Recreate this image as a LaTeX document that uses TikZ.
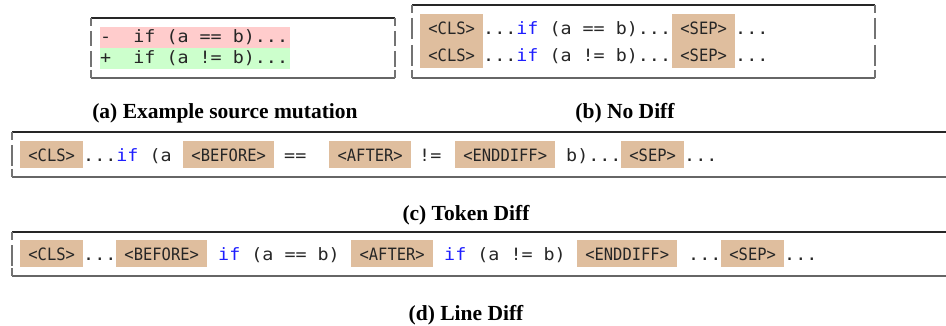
\documentclass[tikz,border=0pt]{standalone}
\usepackage{fontspec}
\setmainfont{Liberation Serif}
\setmonofont{DejaVu Sans Mono}[FakeStretch=1.08]
\newfontfamily\tokfont{DejaVu Sans Mono}[FakeStretch=0.91]
\usepackage{xcolor}
\usepackage{tikz}
\usetikzlibrary{positioning}

\definecolor{tokfill}{RGB}{223,190,158}
\definecolor{delfill}{RGB}{255,204,204}
\definecolor{addfill}{RGB}{204,255,204}
\definecolor{kwblue}{RGB}{30,30,255}
\newcommand{\kw}[1]{\textcolor{kwblue}{#1}}

\tikzset{
    tok/.style={fill=tokfill, anchor=west, inner sep=0pt, minimum height=27pt,
        text height=17pt, text depth=3pt, text=black!85,
        font=\tokfont\fontsize{17}{17}\selectfont},
    code/.style={anchor=base west, inner sep=0pt, text=black!85,
        font=\ttfamily\fontsize{17}{17}\selectfont},
    subcap/.style={anchor=base, inner sep=0pt, font=\bfseries\fontsize{21.5}{21.5}\selectfont},
    topline/.style={draw=black!85, line width=1.1pt},
    botline/.style={draw=black!60, line width=1.8pt},
    sideline/.style={draw=black!55, line width=1.4pt}
}

\begin{document}
\begin{tikzpicture}[x=1pt,y=-1pt]
    \useasboundingbox (0,0) rectangle (946,326);

    % frames
    \draw[topline] (91,18) -- (395,18);
    \draw[botline] (91,78) -- (395,78);
    \draw[topline] (412,5) -- (875,5);
    \draw[botline] (412,78) -- (875,78);
    \draw[topline] (12,132) -- (950,132);
    \draw[botline] (12,177) -- (950,177);
    \draw[topline] (12,232) -- (950,232);
    \draw[botline] (12,276) -- (950,276);
    \foreach \x/\a/\b in {91/18/26, 91/31/46, 91/51/67, 91/70/78,
                          395/18/26, 395/31/46, 395/51/67, 395/70/78,
                          412/5/13, 412/18/39, 412/45/66, 412/70/78,
                          875/5/13, 875/18/39, 875/45/66, 875/70/78,
                          12/132/140, 12/145/166, 12/169/177,
                          12/232/240, 12/245/266, 12/268/276}
        \draw[sideline] (\x,\a) -- (\x,\b);

    % (a) source mutation
    \fill[delfill] (100,27) rectangle (290,48);
    \fill[addfill] (100,48) rectangle (290,69);
    \node[code] (a-del) at (100,42.5) {-~~if~(a~==~b)...};
    \node[code] (a-add) at (100,63.5) {+~~if~(a~!=~b)...};
    \node[subcap] (cap-a) at (225,119) {(a) Example source mutation};

    % (b) no diff
    \node[tok, minimum width=63pt] (b-cls1) at (420,27.5) {<CLS>};
    \node[code] (b-src1) at (483,34.5) {...\kw{if}~(a~==~b)...};
    \node[tok, minimum width=63pt] (b-sep1) at (672,27.5) {<SEP>};
    \node[code] (b-end1) at (735,34.5) {...};
    \node[tok, minimum width=63pt] (b-cls2) at (420,54.5) {<CLS>};
    \node[code] (b-src2) at (483,61.5) {...\kw{if}~(a~!=~b)...};
    \node[tok, minimum width=63pt] (b-sep2) at (672,54.5) {<SEP>};
    \node[code] (b-end2) at (735,61.5) {...};
    \node[subcap] (cap-b) at (625,119) {(b) No Diff};

    % (c) token diff
    \node[tok, minimum width=63pt] (c-cls) at (20,154.5) {<CLS>};
    \node[code] (c-src) at (83,161.5) {...\kw{if}~(a};
    \node[tok, minimum width=91pt] (c-before) at (183,154.5) {<BEFORE>};
    \node[code] (c-old) at (284,161.5) {==};
    \node[tok, minimum width=82pt] (c-after) at (329,154.5) {<AFTER>};
    \node[code] (c-new) at (419,161.5) {!=};
    \node[tok, minimum width=100pt] (c-enddiff) at (455,154.5) {<ENDDIFF>};
    \node[code] (c-rest) at (566,161.5) {b)...};
    \node[tok, minimum width=63pt] (c-sep) at (621,154.5) {<SEP>};
    \node[code] (c-end) at (684,161.5) {...};
    \node[subcap] (cap-c) at (466,221) {(c) Token Diff};

    % (d) line diff
    \node[tok, minimum width=63pt] (d-cls) at (20,253.5) {<CLS>};
    \node[code] (d-pre) at (83,260.5) {...};
    \node[tok, minimum width=91pt] (d-before) at (116,253.5) {<BEFORE>};
    \node[code] (d-old) at (218,260.5) {\kw{if}~(a~==~b)};
    \node[tok, minimum width=82pt] (d-after) at (351,253.5) {<AFTER>};
    \node[code] (d-new) at (444,260.5) {\kw{if}~(a~!=~b)};
    \node[tok, minimum width=100pt] (d-enddiff) at (577,253.5) {<ENDDIFF>};
    \node[code] (d-rest) at (688,260.5) {...};
    \node[tok, minimum width=63pt] (d-sep) at (721,253.5) {<SEP>};
    \node[code] (d-end) at (784,260.5) {...};
    \node[subcap] (cap-d) at (466,320) {(d) Line Diff};
\end{tikzpicture}
\end{document}
